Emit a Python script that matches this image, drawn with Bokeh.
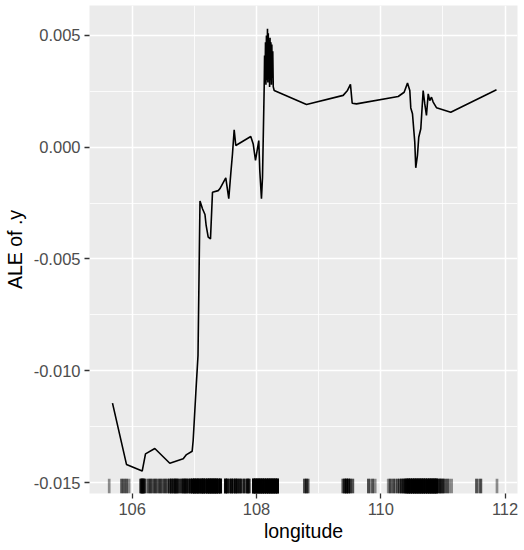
import numpy as np
from bokeh.plotting import figure
from bokeh.models import Range1d, FixedTicker, PrintfTickFormatter
from bokeh.embed import file_html
from bokeh.resources import INLINE

# ALE curve (longitude vs ALE of .y)
ale_lon = [105.683, 105.908, 106.161, 106.214, 106.364, 106.605, 106.821, 106.874,
           106.965, 106.981, 107.023, 107.059, 107.091, 107.131, 107.171, 107.190,
           107.223, 107.260, 107.292, 107.384, 107.410, 107.506, 107.554, 107.586,
           107.614, 107.641, 107.667, 107.908, 107.947, 107.984, 108.037, 108.053,
           108.080, 108.097, 108.124, 108.130, 108.137, 108.145, 108.152, 108.160,
           108.168, 108.177, 108.183, 108.190, 108.197, 108.204, 108.211, 108.218,
           108.225, 108.232, 108.240, 108.247, 108.254, 108.262, 108.270, 108.285,
           108.805, 109.395, 109.464, 109.512, 109.540, 109.609, 110.280, 110.376,
           110.430, 110.467, 110.483, 110.510, 110.547, 110.563, 110.590, 110.611,
           110.644, 110.682, 110.708, 110.735, 110.763, 110.788, 110.816, 110.843,
           110.896, 111.126, 111.862]
ale_val = [-0.01145, -0.01419, -0.01449, -0.01372, -0.01348, -0.01414, -0.01394, -0.01375,
           -0.01360, -0.01312, -0.01103, -0.00932, -0.00240, -0.00275, -0.00301, -0.00350,
           -0.00402, -0.00410, -0.00201, -0.00194, -0.00186, -0.00137, -0.00230, -0.00119,
           -0.00029, 0.00078, 0.00008, 0.00048, 0.00015, -0.00059, 0.00030, -0.00104,
           -0.00230, -0.00134, 0.00269, 0.00410, 0.00290, 0.00470, 0.00280, 0.00500,
           0.00300, 0.00530, 0.00290, 0.00510, 0.00310, 0.00480, 0.00270, 0.00490,
           0.00300, 0.00470, 0.00280, 0.00460, 0.00310, 0.00430, 0.00270, 0.00254,
           0.00191, 0.00232, 0.00254, 0.00281, 0.00197, 0.00194, 0.00227, 0.00246,
           0.00287, 0.00254, 0.00176, 0.00150, 0.00023, -0.00092, -0.00037, 0.00045,
           0.00083, 0.00254, 0.00194, 0.00142, 0.00239, 0.00209, 0.00224, 0.00202,
           0.00177, 0.00157, 0.00257]

# rug: observed longitudes and how many observations sit at each
rug_lon = [105.63, 105.83, 105.87, 105.91, 105.95,
           106.14, 106.16, 106.18, 106.20, 106.25, 106.29, 106.33, 106.37, 106.41,
           106.45, 106.49, 106.53, 106.57, 106.60, 106.63, 106.66, 106.69, 106.72,
           106.75, 106.79, 106.82, 106.85, 106.88, 106.91, 106.94, 106.97,
           107.00, 107.03, 107.06, 107.09, 107.12, 107.15, 107.18, 107.21, 107.24,
           107.27, 107.30, 107.33, 107.36, 107.39, 107.42, 107.50, 107.53, 107.57,
           107.60, 107.63, 107.66, 107.69, 107.72, 107.75, 107.80, 107.85, 107.88,
           107.95, 107.98, 108.01, 108.04, 108.07, 108.10, 108.13, 108.16, 108.19,
           108.22, 108.25, 108.28, 108.31, 108.34,
           108.77, 108.80, 108.83,
           109.39, 109.42, 109.45, 109.48, 109.51, 109.55,
           109.80, 109.83, 109.87, 109.91,
           110.12, 110.15, 110.18, 110.21, 110.24, 110.27, 110.30, 110.33, 110.36,
           110.39, 110.42, 110.45, 110.48, 110.51, 110.54, 110.57, 110.60, 110.63,
           110.66, 110.69, 110.72, 110.75, 110.78, 110.81, 110.84, 110.87, 110.90,
           110.94, 110.97, 111.00, 111.03, 111.07, 111.10, 111.14,
           111.54, 111.58, 111.61, 111.87]
rug_n = [1, 2, 2, 2, 1,
         4, 5, 4, 3, 2, 3, 2, 3, 2,
         3, 2, 3, 2, 3, 4, 3, 5, 4,
         3, 3, 4, 5, 4, 3, 5, 6,
         8, 6, 8, 5, 8, 8, 6, 8, 8,
         8, 8, 8, 8, 6, 8, 6, 5, 3,
         5, 3, 5, 4, 3, 4, 4, 5, 4,
         8, 8, 8, 8, 8, 8, 8, 8, 8,
         8, 8, 8, 8, 8,
         2, 3, 2,
         2, 4, 5, 4, 3, 2,
         2, 1, 2, 1,
         1, 2, 1, 2, 1, 2, 2, 3, 3,
         5, 7, 8, 8, 8, 8, 8, 8, 8,
         8, 8, 8, 8, 8, 8, 8, 8, 8,
         4, 3, 3, 2, 2, 1, 1,
         2, 1, 2, 1]

x_ticks = [106, 108, 110, 112]
x_minor = [107, 109, 111]
y_ticks = [-0.015, -0.010, -0.005, 0.000, 0.005]
y_minor = [-0.0125, -0.0075, -0.0025, 0.0025]

x_start, x_end = 105.313, 112.2
y_start, y_end = -0.015492, 0.006342

FONT = "Liberation Sans"

p = figure(frame_width=428, frame_height=488, output_backend="svg", toolbar_location=None,
           x_range=Range1d(x_start, x_end), y_range=Range1d(y_start, y_end),
           min_border_left=88, min_border_right=8, min_border_top=5, min_border_bottom=56)

p.background_fill_color = "#EBEBEB"
p.border_fill_color = "white"
p.outline_line_color = None

p.xaxis.ticker = FixedTicker(ticks=x_ticks, minor_ticks=x_minor)
p.yaxis.ticker = FixedTicker(ticks=y_ticks, minor_ticks=y_minor)
p.xgrid.ticker = FixedTicker(ticks=x_ticks, minor_ticks=x_minor)
p.ygrid.ticker = FixedTicker(ticks=y_ticks, minor_ticks=y_minor)
p.yaxis.formatter = PrintfTickFormatter(format="%.3f")

for g in (p.xgrid, p.ygrid):
    g.grid_line_color = "white"
    g.grid_line_width = 1.5
    g.minor_grid_line_color = "white"
    g.minor_grid_line_width = 0.8

for ax in (p.xaxis, p.yaxis):
    ax.axis_line_color = None
    ax.major_tick_line_color = "#333333"
    ax.major_tick_line_width = 1.3
    ax.major_tick_out = 5
    ax.major_tick_in = 0
    ax.minor_tick_line_color = None
    ax.major_label_text_font = FONT
    ax.major_label_text_font_size = "16.5px"
    ax.major_label_text_color = "#4D4D4D"
    ax.major_label_standoff = 4
    ax.axis_label_text_font = FONT
    ax.axis_label_text_font_size = "19.5px"
    ax.axis_label_text_font_style = "normal"
    ax.axis_label_text_color = "black"

p.xaxis.axis_label_standoff = 2
p.yaxis.axis_label_standoff = 5
p.xaxis.axis_label = "longitude"
p.yaxis.axis_label = "ALE of .y"

# rug along the bottom (3% of panel height)
rug_x = np.repeat(np.array(rug_lon), np.array(rug_n))
rug_len = 0.03 * (y_end - y_start)
p.segment(x0=rug_x, y0=y_start, x1=rug_x, y1=y_start + rug_len,
          line_color="black", line_alpha=0.42, line_width=2.7)

p.line(ale_lon, ale_val, line_color="black", line_width=1.6)

open("out.html", "w").write(file_html(p, INLINE))
